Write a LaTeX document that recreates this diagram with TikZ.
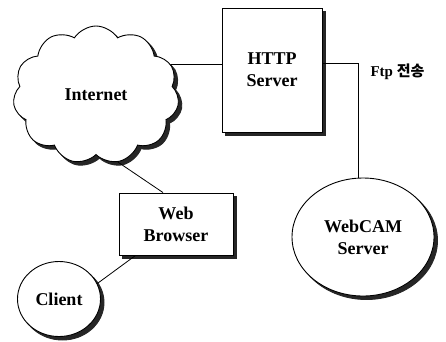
\documentclass[tikz,border=0pt]{standalone}
\usepackage{fontspec}
\setmainfont{Liberation Serif}
\newfontfamily\krfont{Noto Sans CJK KR}
\usetikzlibrary{shapes.symbols,shapes.geometric}
\begin{document}
\begin{tikzpicture}[x=1pt,y=-1pt,
  every node/.style={font=\bfseries\fontsize{18}{22}\selectfont},
  box/.style={draw,line width=0.9pt,fill=white,align=center,inner sep=0pt},
  shadowfill/.style={fill=black!85,draw=black!85,line width=0.9pt},
  cloudshape/.style={cloud,cloud puffs=11,cloud puff arc=115,aspect=1.2,
      minimum width=166pt,minimum height=138pt},
  link/.style={line width=0.8pt}]
\fill[white] (0,0) rectangle (446,341);
\useasboundingbox (0,0) rectangle (446,341);

% cast shadows, drawn first and offset to the lower right
\node[shadowfill,cloudshape] (cloudsh) at (99.5,98.5) {};
\node[shadowfill,minimum width=100pt,minimum height=124pt] (httpsh) at (275.5,73.5) {};
\node[shadowfill,ellipse,minimum width=142pt,minimum height=118pt] (camsh) at (366.5,240.5) {};
\node[shadowfill,minimum width=114pt,minimum height=62pt] (browsersh) at (179.5,227.5) {};
\node[shadowfill,ellipse,minimum width=83pt,minimum height=75pt] (clientsh) at (62.5,302.5) {};

% network parts
\node[box,cloudshape] (cloud) at (96,95) {Internet};
\node[box,minimum width=100pt,minimum height=124pt] (http) at (272,70) {HTTP\\Server};
\node[box,ellipse,minimum width=142pt,minimum height=118pt] (cam) at (363,237) {WebCAM\\Server};
\node[box,minimum width=114pt,minimum height=62pt] (browser) at (176,224) {Web\\Browser};
\node[box,ellipse,minimum width=83pt,minimum height=75pt] (client) at (59,299) {Client};

% connections
\draw[link] (cloud.22) -- (cloud.22 -| http.west);
\draw[link] ([yshift=7pt]http.east) -| ([xshift=-5pt]cam.north);
\draw[link] (cloud.-72) -- ([xshift=-13pt]browser.north);
\draw[link] ([xshift=17pt]browser.south west) -- (client.22);

\node[font=\bfseries\fontsize{15}{17}\selectfont,anchor=west] (ftp) at (367,72)
  {Ftp {\krfont\bfseries\fontsize{15}{17}\selectfont 전송}};
\end{tikzpicture}
\end{document}
